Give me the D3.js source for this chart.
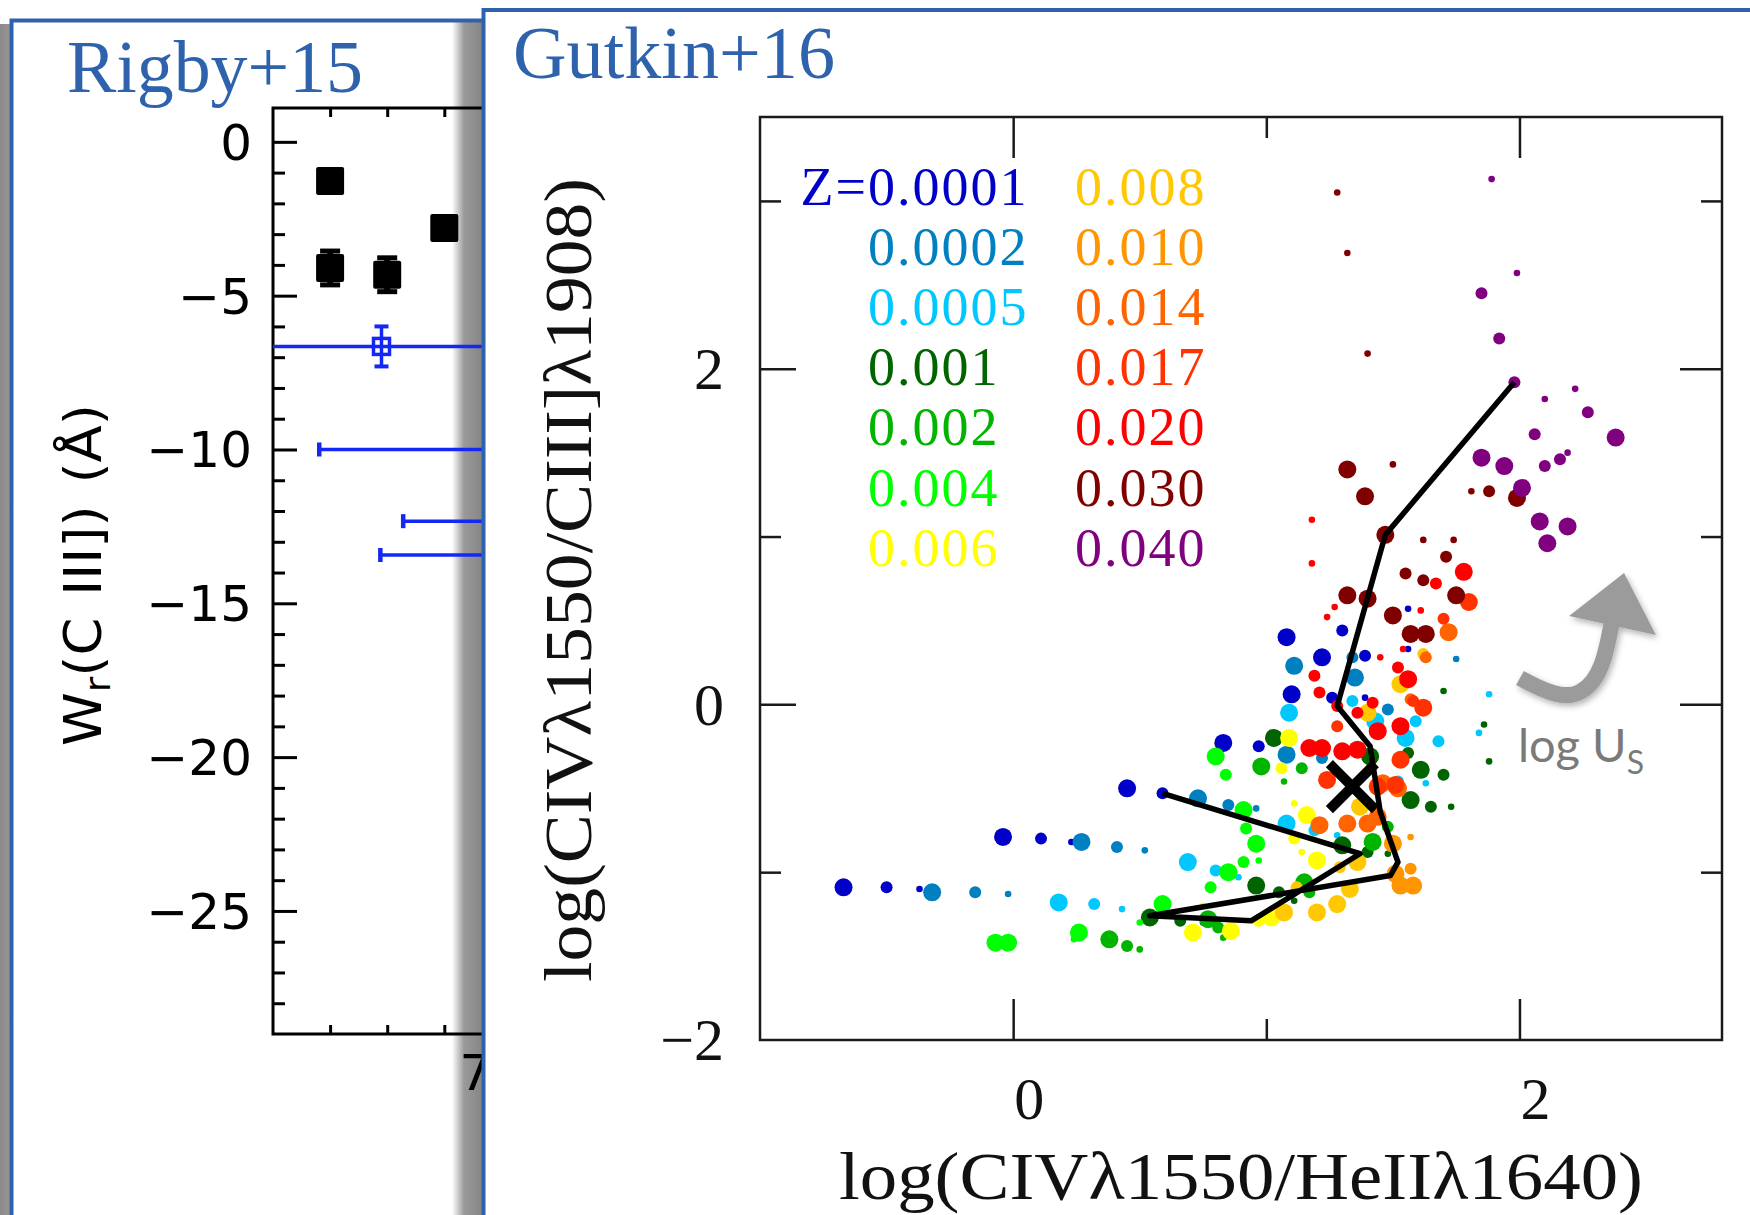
<!DOCTYPE html>
<html><head><meta charset="utf-8">
<script src="https://cdn.jsdelivr.net/npm/d3@7"></script>
<style>body{margin:0;background:#fff;} svg{display:block;}</style>
</head><body>
<svg id="c" width="1750" height="1215"></svg>
<script>
// ---------------- Rigby+15 panel data ----------------
const rigbyX = [6.7, 6.7, 6.8, 6.9];
const rigbyW = [-1.27, -4.10, -4.32, -2.80];
const rigbyErr = [0, 0.55, 0.55, 0];
const limitXStart = [6.5, 6.681, 6.828, 6.788];
const limitW = [-6.65, -10.0, -12.33, -13.43];
const limitHasCap = [false, true, true, true];
const rigbyOpenX = [6.79];
const rigbyOpenW = [-6.65];
const rigbyOpenErr = [0.65];
const rigbyYMajor = [0, -5, -10, -15, -20, -25];
const rigbyXMinor = [6.7, 6.8, 6.9];
const rigbyXMajor = [7];

// ---------------- Gutkin+16 panel data ----------------
// each point: [log(CIV/HeII), log(CIV/CIII]), density index 1..3]
const metallicities = ["0.0001","0.0002","0.0005","0.001","0.002","0.004","0.006",
                       "0.008","0.010","0.014","0.017","0.020","0.030","0.040"];
const zColors = ["#0000c8","#0080c0","#00c8ff","#006400","#00b400","#00ff00","#ffff00",
                 "#ffc800","#ff9600","#ff6400","#ff3200","#ff0000","#800000","#800080"];

const z0001 = [[-0.67,-1.09,3],[-0.50,-1.09,2],[-0.37,-1.10,1],
  [-0.04,-0.79,3],[0.11,-0.80,2],[0.23,-0.82,1],[0.45,-0.50,3],[0.59,-0.53,2],
  [0.83,-0.23,3],[0.97,-0.25,2],[1.10,0.06,3],[1.08,0.40,3],[1.22,0.28,3],
  [1.30,0.44,2],[1.26,0.04,2],[1.39,0.29,2],[1.39,0.04,1],[1.56,0.57,1],[1.56,0.33,1]];
const z0002 = [[-0.32,-1.12,3],[-0.15,-1.12,2],[-0.02,-1.13,1],
  [0.27,-0.82,3],[0.41,-0.85,2],[0.52,-0.87,1],[0.73,-0.56,3],[0.85,-0.60,2],[0.96,-0.62,1],
  [1.08,-0.30,3],[1.22,-0.32,2],[1.11,0.23,3],[1.35,0.16,3],[1.34,0.28,2],[1.48,-0.03,2],[1.75,0.27,1]];
const z0005 = [[0.18,-1.18,3],[0.32,-1.19,2],[0.43,-1.22,1],
  [0.69,-0.94,3],[0.80,-0.99,2],[0.89,-1.03,1],[1.08,-0.71,3],[1.19,-0.75,2],[1.28,-0.78,1],
  [1.09,-0.05,3],[1.34,0.02,2],[1.43,-0.10,3],[1.59,-0.10,2],[1.68,-0.22,2],[1.55,-0.20,3],
  [1.52,-0.46,2],[1.63,-0.47,1],[1.84,-0.17,1],[1.88,0.06,1]];
const z001 = [[0.54,-1.27,3],[0.66,-1.29,2],[0.75,-1.30,1],
  [0.96,-1.08,3],[1.05,-1.12,2],[1.11,-1.17,1],[1.30,-0.84,3],[1.40,-0.88,2],[1.48,-0.89,1],
  [1.03,-0.20,3],[1.41,-0.31,3],[1.56,-0.29,2],[1.61,-0.39,3],[1.70,-0.42,2],
  [1.57,-0.57,3],[1.65,-0.61,2],[1.73,-0.61,1],[1.70,0.08,1],[1.86,-0.12,1],[1.88,-0.34,1]];
const z002 = [[0.38,-1.40,3],[0.45,-1.44,2],[0.50,-1.46,1],
  [0.77,-1.28,3],[0.81,-1.33,2],[0.83,-1.39,1],[1.15,-1.06,3],[1.17,-1.12,2],
  [0.98,-0.37,3],[1.14,-0.38,2],[1.07,-0.46,1],[1.42,-0.82,3],[1.48,-0.73,2]];
const z004 = [[-0.07,-1.42,3],[-0.02,-1.42,3],[0.00,-1.41,1],
  [0.26,-1.36,3],[0.24,-1.40,1],[0.59,-1.19,3],[0.50,-1.30,1],
  [0.85,-1.00,3],[0.91,-0.94,2],[0.97,-0.93,1],[0.78,-1.09,2],
  [0.96,-0.83,3],[0.92,-0.74,2],[0.91,-0.63,3],[0.80,-0.31,3],[0.84,-0.42,2]];
const z006 = [[0.71,-1.36,3],[0.86,-1.35,3],[0.75,-1.20,1],[0.97,-1.29,2],[1.02,-1.27,3],
  [1.09,-0.20,3],[1.06,-0.38,2],[1.16,-0.66,3],[1.11,-0.80,2],[1.14,-0.88,1],
  [1.20,-0.93,3],[1.11,-0.59,1]];
const z008 = [[1.07,-1.24,3],[1.20,-1.24,3],[1.28,-1.19,3],[1.33,-1.10,3],[1.36,-0.94,3],
  [1.29,-0.97,2],[1.12,-1.09,2],[1.37,-0.61,3],[1.53,0.12,3],[1.62,0.30,2],[1.40,-0.05,3]];
const z010 = [[1.50,-0.83,3],[1.51,-1.01,3],[1.57,-0.98,2],[1.58,-1.08,3],[1.53,-1.08,3],[1.57,-0.79,1]];
const z014 = [[1.21,-0.72,3],[1.32,-0.71,3],[1.40,-0.71,3],[1.44,-0.67,3],[1.46,-0.47,3],
  [1.52,-0.50,3],[1.72,0.43,3],[1.57,0.03,2],[1.63,0.28,2]];
const z017 = [[1.80,0.61,3],[1.70,0.51,2],[1.62,-0.02,3],[1.58,0.02,2],[1.53,-0.33,3],
  [1.44,-0.49,3],[1.24,-0.45,3],[1.28,-0.13,2],[1.51,-0.48,3]];
const z020 = [[1.78,0.79,3],[1.67,0.72,2],[1.61,0.56,1],[1.56,0.15,3],[1.52,0.22,2],
  [1.44,-0.16,3],[1.42,0.01,2],[1.36,-0.05,2],[1.28,-0.01,2],[1.17,-0.26,3],[1.22,-0.26,3],
  [1.30,-0.28,3],[1.36,-0.27,3],[1.19,0.17,2],[1.21,0.07,2],[1.45,0.28,1],[1.27,0.58,1],
  [1.24,0.52,1],[1.18,0.84,1],[1.54,0.33,1],[1.53,-0.13,3],[1.18,1.10,1]];
const z030 = [[1.28,3.05,1],[1.32,2.69,1],[1.40,2.09,1],[1.50,1.43,1],[1.62,0.98,1],
  [1.74,0.98,1],[1.81,1.27,1],[1.32,1.40,3],[1.39,1.24,3],[1.47,1.01,3],[1.88,1.27,2],
  [1.99,1.23,3],[1.32,0.65,3],[1.40,0.63,3],[1.50,0.53,3],[1.57,0.42,3],[1.63,0.42,3],
  [1.75,0.65,3],[1.62,0.74,2],[1.55,0.78,2],[1.71,0.88,2]];
const z040 = [[1.89,3.13,1],[1.99,2.57,1],[1.85,2.45,2],[1.92,2.18,2],[1.98,1.92,2],
  [2.10,1.82,1],[2.22,1.88,1],[2.27,1.74,2],[2.38,1.59,3],[2.06,1.61,2],[1.85,1.47,3],
  [1.94,1.42,3],[2.10,1.42,2],[2.16,1.46,2],[2.19,1.50,1],[2.01,1.29,3],[2.08,1.09,3],
  [2.19,1.06,3],[2.11,0.96,3]];
const modelSets = [z0001,z0002,z0005,z001,z002,z004,z006,z008,z010,z014,z017,z020,z030,z040];

const trackX = [1.98,1.47,1.28,1.41,1.45,1.52,1.49,0.54,0.94,1.37,0.59];
const trackY = [1.92,1.01,-0.01,-0.25,-0.64,-0.94,-1.02,-1.26,-1.29,-0.89,-0.53];
const observedX = [1.34];
const observedY = [-0.49];
const gXMajor = [0, 2], gXMinor = [1];
const gYMajor = [2, 0], gYMinor = [3, 1, -1];
const gYLabels = [2, 0, -2];

// ---------------- drawing ----------------
const svg = d3.select("#c");
const BLUE = "#2f62ad";
const defs = svg.append("defs");
const gr = defs.append("linearGradient").attr("id","shR").attr("x1",0).attr("x2",1).attr("y1",0).attr("y2",0);
gr.append("stop").attr("offset",0).attr("stop-color","#888").attr("stop-opacity",0);
gr.append("stop").attr("offset",0.4).attr("stop-color","#888").attr("stop-opacity",0.85);
gr.append("stop").attr("offset",1).attr("stop-color","#858585").attr("stop-opacity",1);
const gl = defs.append("linearGradient").attr("id","shL").attr("x1",0).attr("x2",1).attr("y1",0).attr("y2",0);
gl.append("stop").attr("offset",0).attr("stop-color","#8a8a8a");
gl.append("stop").attr("offset",1).attr("stop-color","#8a8a8a").attr("stop-opacity",0.9);
const fs = defs.append("filter").attr("id","ash").attr("x","-30%").attr("y","-30%").attr("width","160%").attr("height","160%");
fs.append("feDropShadow").attr("dx",2).attr("dy",3).attr("stdDeviation",3).attr("flood-color","#000").attr("flood-opacity",0.3);

// ===== Left panel (Rigby+15) =====
svg.append("rect").attr("x",0).attr("y",24).attr("width",10).attr("height",1191).attr("fill","url(#shL)");
// drop shadow of the right panel falls on the left panel, beneath its ink
svg.append("rect").attr("x",452).attr("y",22).attr("width",30).attr("height",1193).attr("fill","url(#shR)");
svg.append("path").attr("d","M11.5,1215V20.5H482").attr("fill","none").attr("stroke",BLUE).attr("stroke-width",4);
svg.append("text").attr("x",67).attr("y",92).attr("font-family","Liberation Serif").attr("font-size",73)
  .attr("textLength",296).attr("lengthAdjust","spacingAndGlyphs").attr("fill",BLUE).text("Rigby+15");

const xL = d3.scaleLinear().domain([6.6, 7.6]).range([273, 844]);
const yL = d3.scaleLinear().domain([-29, 1.1]).range([1034, 108]);
const L = svg.append("g");
L.append("path").attr("d",`M482,${yL(1.1)}H${xL(6.6)}V${yL(-29)}H482`).attr("fill","none").attr("stroke","#000").attr("stroke-width",3);
const yMinorL = d3.range(-28, 1).filter(v => v % 5 !== 0);
function styleAxis(g){ g.select(".domain").remove(); g.selectAll("line").attr("stroke","#000").attr("stroke-width",3); }
L.append("g").attr("transform",`translate(${xL(6.6)},0)`).call(d3.axisRight(yL).tickValues(rigbyYMajor).tickSize(24).tickFormat("")).call(styleAxis);
L.append("g").attr("transform",`translate(${xL(6.6)},0)`).call(d3.axisRight(yL).tickValues(yMinorL).tickSize(12).tickFormat("")).call(styleAxis);
L.append("g").attr("transform",`translate(0,${yL(1.1)})`).call(d3.axisBottom(xL).tickValues(rigbyXMinor).tickSize(9).tickFormat("")).call(styleAxis);
L.append("g").attr("transform",`translate(0,${yL(1.1)})`).call(d3.axisBottom(xL).tickValues(rigbyXMajor).tickSize(24).tickFormat("")).call(styleAxis);
L.append("g").attr("transform",`translate(0,${yL(-29)})`).call(d3.axisTop(xL).tickValues(rigbyXMinor).tickSize(9).tickFormat("")).call(styleAxis);
L.append("g").attr("transform",`translate(0,${yL(-29)})`).call(d3.axisTop(xL).tickValues(rigbyXMajor).tickSize(24).tickFormat("")).call(styleAxis);
L.selectAll("text.yl").data(rigbyYMajor).join("text").attr("class","yl")
  .attr("x",252).attr("y",d=>yL(d)).attr("dy","0.36em").attr("text-anchor","end")
  .attr("font-family","DejaVu Sans").attr("font-size",50).attr("fill","#000")
  .text(d => d===0 ? "0" : "\u2212" + Math.abs(d));
L.selectAll("text.xl").data(rigbyXMajor).join("text").attr("class","xl")
  .attr("x",d=>xL(d)-10).attr("y",1090).attr("text-anchor","end")
  .attr("font-family","DejaVu Sans").attr("font-size",50).attr("fill","#000").text(d=>String(d));
const yt = L.append("text").attr("transform","translate(101,575) rotate(-90)").attr("text-anchor","middle")
  .attr("font-family","DejaVu Sans").attr("font-size",52).attr("fill","#000")
  .attr("textLength",342).attr("lengthAdjust","spacingAndGlyphs");
yt.append("tspan").text("W");
yt.append("tspan").attr("font-size",36).attr("dy",9).text("r");
yt.append("tspan").attr("dy",-9).text("(C\u2009\u2009III])\u2009\u2009(\u00c5)");

const clipL = defs.append("clipPath").attr("id","clipL");
clipL.append("rect").attr("x",xL(6.6)).attr("y",yL(1.1)).attr("width",600).attr("height",yL(-29)-yL(1.1));
const LD = L.append("g").attr("clip-path","url(#clipL)");
const sq = 28;
LD.selectAll("g.err").data(rigbyX.map((x,i)=>({x, w:rigbyW[i], e:rigbyErr[i]})).filter(d=>d.e>0))
  .join(g => { const s = g.append("g").attr("class","err");
    s.append("line").attr("x1",d=>xL(d.x)).attr("x2",d=>xL(d.x)).attr("y1",d=>yL(d.w+d.e)).attr("y2",d=>yL(d.w-d.e)).attr("stroke","#000").attr("stroke-width",6);
    s.append("line").attr("x1",d=>xL(d.x)-10).attr("x2",d=>xL(d.x)+10).attr("y1",d=>yL(d.w+d.e)).attr("y2",d=>yL(d.w+d.e)).attr("stroke","#000").attr("stroke-width",5);
    s.append("line").attr("x1",d=>xL(d.x)-10).attr("x2",d=>xL(d.x)+10).attr("y1",d=>yL(d.w-d.e)).attr("y2",d=>yL(d.w-d.e)).attr("stroke","#000").attr("stroke-width",5);
    return s; });
LD.selectAll("rect.sq").data(rigbyX.map((x,i)=>({x, w:rigbyW[i]}))).join("rect").attr("class","sq")
  .attr("x",d=>xL(d.x)-sq/2).attr("y",d=>yL(d.w)-sq/2).attr("width",sq).attr("height",sq).attr("rx",2).attr("fill","#000");
const LB = "#1428f5";
const limits = limitW.map((w,i)=>({w, x:limitXStart[i], cap:limitHasCap[i]}));
LD.selectAll("line.lim").data(limits).join("line").attr("class","lim")
  .attr("x1",d=>xL(d.x)).attr("x2",xL(7.6)).attr("y1",d=>yL(d.w)).attr("y2",d=>yL(d.w)).attr("stroke",LB).attr("stroke-width",3.5);
LD.selectAll("line.cap").data(limits.filter(d=>d.cap)).join("line").attr("class","cap")
  .attr("x1",d=>xL(d.x)).attr("x2",d=>xL(d.x)).attr("y1",d=>yL(d.w)-7).attr("y2",d=>yL(d.w)+7).attr("stroke",LB).attr("stroke-width",4.5);
rigbyOpenX.forEach((x,i)=>{
  const cx = xL(x), w = rigbyOpenW[i], e = rigbyOpenErr[i];
  LD.append("line").attr("x1",cx).attr("x2",cx).attr("y1",yL(w+e)).attr("y2",yL(w-e)).attr("stroke",LB).attr("stroke-width",3.5);
  LD.append("line").attr("x1",cx-7).attr("x2",cx+7).attr("y1",yL(w+e)).attr("y2",yL(w+e)).attr("stroke",LB).attr("stroke-width",4);
  LD.append("line").attr("x1",cx-7).attr("x2",cx+7).attr("y1",yL(w-e)).attr("y2",yL(w-e)).attr("stroke",LB).attr("stroke-width",4);
  LD.append("rect").attr("x",cx-8).attr("y",yL(w)-8).attr("width",16).attr("height",16).attr("fill","none").attr("stroke",LB).attr("stroke-width",3.5);
});

// ===== Right panel (Gutkin+16) =====
svg.append("rect").attr("x",482).attr("y",10).attr("width",1268).attr("height",1205).attr("fill","#fff");
svg.append("path").attr("d","M483.5,1215V10H1750").attr("fill","none").attr("stroke",BLUE).attr("stroke-width",4);
svg.append("text").attr("x",513).attr("y",78).attr("font-family","Liberation Serif").attr("font-size",73)
  .attr("textLength",322).attr("lengthAdjust","spacingAndGlyphs").attr("fill",BLUE).text("Gutkin+16");

const xG = d3.scaleLinear().domain([-1, 2.8]).range([760, 1722]);
const yG = d3.scaleLinear().domain([-2, 3.5]).range([1040, 117]);
const R = svg.append("g");
const AX = "#1a1a1a";
function styleG(g){ g.select(".domain").remove(); g.selectAll("line").attr("stroke",AX).attr("stroke-width",2.5); }
R.append("rect").attr("x",xG(-1)).attr("y",yG(3.5)).attr("width",xG(2.8)-xG(-1)).attr("height",yG(-2)-yG(3.5))
  .attr("fill","none").attr("stroke",AX).attr("stroke-width",2.5);
R.append("g").attr("transform",`translate(0,${yG(-2)})`).call(d3.axisTop(xG).tickValues(gXMajor).tickSize(41).tickFormat("")).call(styleG);
R.append("g").attr("transform",`translate(0,${yG(-2)})`).call(d3.axisTop(xG).tickValues(gXMinor).tickSize(21).tickFormat("")).call(styleG);
R.append("g").attr("transform",`translate(0,${yG(3.5)})`).call(d3.axisBottom(xG).tickValues(gXMajor).tickSize(41).tickFormat("")).call(styleG);
R.append("g").attr("transform",`translate(0,${yG(3.5)})`).call(d3.axisBottom(xG).tickValues(gXMinor).tickSize(21).tickFormat("")).call(styleG);
R.append("g").attr("transform",`translate(${xG(-1)},0)`).call(d3.axisRight(yG).tickValues(gYMajor).tickSize(36).tickFormat("")).call(styleG);
R.append("g").attr("transform",`translate(${xG(-1)},0)`).call(d3.axisRight(yG).tickValues(gYMinor).tickSize(21).tickFormat("")).call(styleG);
R.append("g").attr("transform",`translate(${xG(2.8)},0)`).call(d3.axisLeft(yG).tickValues(gYMajor).tickSize(42).tickFormat("")).call(styleG);
R.append("g").attr("transform",`translate(${xG(2.8)},0)`).call(d3.axisLeft(yG).tickValues(gYMinor).tickSize(21).tickFormat("")).call(styleG);
const fmtG = d => d < 0 ? "\u2212" + Math.abs(d) : String(d);
R.selectAll("text.gy").data(gYLabels).join("text").attr("class","gy")
  .attr("x",724).attr("y",d=>yG(d)).attr("dy","0.34em").attr("text-anchor","end")
  .attr("font-family","Liberation Serif").attr("font-size",60).attr("fill","#111").text(fmtG);
R.selectAll("text.gx").data(gXMajor).join("text").attr("class","gx")
  .attr("x",d=>xG(d)+16).attr("y",1119).attr("text-anchor","middle")
  .attr("font-family","Liberation Serif").attr("font-size",60).attr("fill","#111").text(fmtG);
R.append("text").attr("x",1241).attr("y",1199).attr("text-anchor","middle")
  .attr("font-family","Liberation Serif").attr("font-size",68).attr("fill","#111")
  .attr("textLength",804).attr("lengthAdjust","spacingAndGlyphs").text("log(CIV\u03bb1550/HeII\u03bb1640)");
R.append("text").attr("transform","translate(591,580) rotate(-90)").attr("text-anchor","middle")
  .attr("font-family","Liberation Serif").attr("font-size",68).attr("fill","#111")
  .attr("textLength",804).attr("lengthAdjust","spacingAndGlyphs").text("log(CIV\u03bb1550/CIII]\u03bb1908)");

// legend
const leg = R.append("g").attr("font-family","Liberation Serif").attr("font-size",54).attr("letter-spacing",2);
metallicities.forEach((m,i)=>{
  const col = i < 7 ? 0 : 1, row = i % 7;
  if (i === 0) leg.append("text").attr("x",868).attr("y",205).attr("text-anchor","end").attr("fill",zColors[i]).text("Z=");
  leg.append("text").attr("x", col===0 ? 868 : 1075).attr("y",205 + row*60.1).attr("fill",zColors[i]).text(m);
});

// model points
const rScale = d3.scaleOrdinal().domain([1,2,3]).range([3.3,6,9]);
const P = R.append("g");
modelSets.forEach((set,i)=>{
  P.append("g").attr("fill",zColors[i]).selectAll("circle").data(set).join("circle")
    .attr("cx",d=>xG(d[0])).attr("cy",d=>yG(d[1])).attr("r",d=>rScale(d[2]));
});
// fiducial track
R.append("path").datum(trackX.map((x,i)=>[x,trackY[i]]))
  .attr("d",d3.line().x(d=>xG(d[0])).y(d=>yG(d[1])))
  .attr("fill","none").attr("stroke","#000").attr("stroke-width",5.5).attr("stroke-linejoin","round");
// observed X
observedX.forEach((x,i)=>{
  const cx = xG(x), cy = yG(observedY[i]), a = 23;
  R.append("path").attr("d",`M${cx-a},${cy-a}L${cx+a},${cy+a}M${cx-a},${cy+a}L${cx+a},${cy-a}`)
    .attr("stroke","#000").attr("stroke-width",10);
});

// log U_S arrow annotation (positioned in data units)
const arrowShaft = [[2.002,0.157],[2.101,0.074],[2.180,0.026],[2.239,0.074],[2.318,0.133],[2.342,0.294],[2.366,0.500]];
const arrowHead = [[2.196,0.526],[2.413,0.783],[2.539,0.414]];
const ag = R.append("g").attr("filter","url(#ash)");
const sp = arrowShaft.map(d=>[xG(d[0]),yG(d[1])]);
ag.append("path").attr("d",`M${sp[0]}C${sp[1]} ${sp[2]} ${sp[3]}C${sp[4]} ${sp[5]} ${sp[6]}`)
  .attr("fill","none").attr("stroke","#9b9b9b").attr("stroke-width",16);
ag.append("path").attr("d","M"+arrowHead.map(d=>[xG(d[0]),yG(d[1])].join(",")).join("L")+"Z").attr("fill","#9b9b9b");
const lu = R.append("text").attr("x",xG(1.994)).attr("y",yG(-0.343)).attr("font-family","Lato").attr("font-size",47).attr("fill","#7a7a7a");
lu.append("tspan").text("log U");
lu.append("tspan").attr("font-size",32).attr("dy",12).text("S");
</script>
</body></html>
